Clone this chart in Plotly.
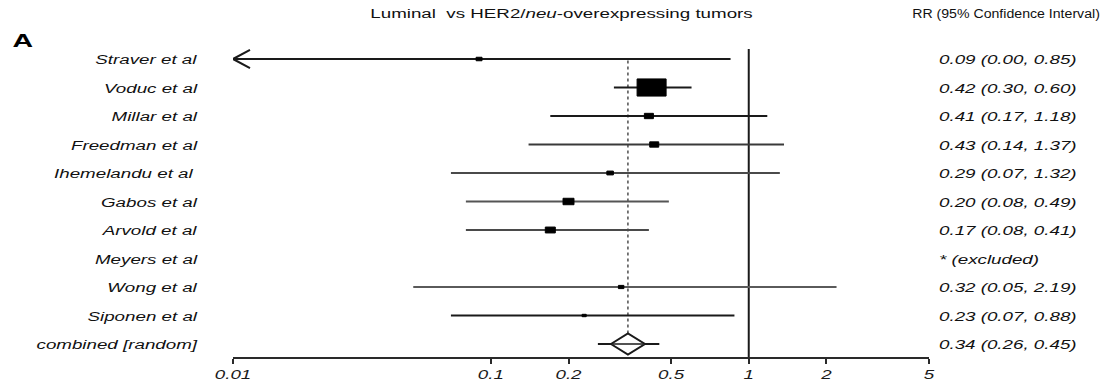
import json
import math
import plotly.graph_objects as go

# ---------------- data ----------------
studies = ["Straver et al", "Voduc et al", "Millar et al", "Freedman et al",
           "Ihemelandu et al ", "Gabos et al", "Arvold et al", "Meyers et al",
           "Wong et al", "Siponen et al"]
rr = [0.09, 0.42, 0.41, 0.43, 0.29, 0.20, 0.17, None, 0.32, 0.23]
ci_low = [0.00, 0.30, 0.17, 0.14, 0.07, 0.08, 0.08, None, 0.05, 0.07]
ci_high = [0.85, 0.60, 1.18, 1.37, 1.32, 0.49, 0.41, None, 2.19, 0.88]
weights = [1.9, 45.5, 4.4, 4.4, 2.3, 6.5, 5.4, 0.0, 1.6, 0.9]   # estimated study weights (%)
rr_text = ["0.09 (0.00, 0.85)", "0.42 (0.30, 0.60)", "0.41 (0.17, 1.18)",
           "0.43 (0.14, 1.37)", "0.29 (0.07, 1.32)", "0.20 (0.08, 0.49)",
           "0.17 (0.08, 0.41)", "* (excluded)", "0.32 (0.05, 2.19)",
           "0.23 (0.07, 0.88)"]
pooled_label = "combined [random]"
pooled_rr = 0.34
pooled_low = 0.26
pooled_high = 0.45
pooled_text = "0.34 (0.26, 0.45)"
tick_values = [0.01, 0.1, 0.2, 0.5, 1, 2, 5]
tick_labels = ["0.01", "0.1", "0.2", "0.5", "1", "2", "5"]
title_left = "Luminal  vs HER2/<i>neu</i>-overexpressing tumors"
title_right = "RR (95% Confidence Interval)"
panel_label = "A"

# ---------------- layout geometry (pixels) ----------------
W, H = 1107, 388
ML, MR, MT, MB = 233, 178, 45, 31
PW, PH = W - ML - MR, H - MT - MB
X_MIN, X_MAX = 0.01, 5.0
ROW0_PX, ROW_STEP = 59.0, 28.5
PX_PER_DEC = PW / (math.log10(X_MAX) - math.log10(X_MIN))
y_top = (MT - ROW0_PX) / ROW_STEP
y_bot = (H - MB - ROW0_PX) / ROW_STEP
STRETCH = 1.5
SPECIAL_STRETCH = {title_right: 1.13}

INK = "#111111"
line_colors = ["#1a1a1a", "#1a1a1a", "#1a1a1a", "#3a3a3a", "#4a4a4a",
               "#555555", "#4a4a4a", "#4a4a4a", "#5a5a5a", "#1a1a1a"]
FONT = "Liberation Sans, Arial, sans-serif"


def px_x(v, dpx):
    """value shifted by dpx pixels along the log axis"""
    return v * 10 ** (dpx / PX_PER_DEC)


def paper_x(px):
    return (px - ML) / PW


def paper_y(py):
    return (H - MB - py) / PH


fig = go.Figure()
n = len(studies)
pooled_row = n

# reference lines
fig.add_trace(go.Scatter(x=[1, 1], y=[(49 - ROW0_PX) / ROW_STEP, y_bot], mode="lines",
                         line=dict(color="#1a1a1a", width=2), hoverinfo="skip"))
fig.add_trace(go.Scatter(x=[pooled_rr, pooled_rr], y=[0.05, pooled_row - 0.37], mode="lines",
                         line=dict(color="#333333", width=1.3, dash="dot"), hoverinfo="skip"))

# study CIs and boxes
for i in range(n):
    if rr[i] is None:
        continue
    lo = max(ci_low[i], X_MIN)
    fig.add_trace(go.Scatter(x=[lo, ci_high[i]], y=[i, i], mode="lines",
                             line=dict(color=line_colors[i], width=2.2), hoverinfo="skip"))
    if ci_low[i] < X_MIN:
        fig.add_trace(go.Scatter(x=[px_x(X_MIN, 17), X_MIN, px_x(X_MIN, 17)],
                                 y=[i - 0.32, i, i + 0.32], mode="lines",
                                 line=dict(color="#1a1a1a", width=2), hoverinfo="skip"))
    bw = 4.3 * math.sqrt(weights[i])
    bh = 0.59 * bw
    hx = bw / 2
    hy = bh / 2 / ROW_STEP
    fig.add_trace(go.Scatter(
        x=[px_x(rr[i], -hx), px_x(rr[i], hx), px_x(rr[i], hx), px_x(rr[i], -hx), px_x(rr[i], -hx)],
        y=[i - hy, i - hy, i + hy, i + hy, i - hy], mode="lines", fill="toself",
        fillcolor="#000000", line=dict(color="#000000", width=1), hoverinfo="skip"))

# pooled estimate
fig.add_trace(go.Scatter(x=[pooled_low, pooled_high], y=[pooled_row, pooled_row], mode="lines",
                         line=dict(color="#1a1a1a", width=2), hoverinfo="skip"))
dh = 10.5 / ROW_STEP
fig.add_trace(go.Scatter(
    x=[px_x(pooled_rr, -17), pooled_rr, px_x(pooled_rr, 17), pooled_rr, px_x(pooled_rr, -17)],
    y=[pooled_row, pooled_row - dh, pooled_row, pooled_row + dh, pooled_row],
    mode="lines", fill="toself", fillcolor="white",
    line=dict(color="#1a1a1a", width=2), hoverinfo="skip"))
fig.add_trace(go.Scatter(x=[px_x(pooled_rr, -15), px_x(pooled_rr, 15)], y=[pooled_row, pooled_row],
                         mode="lines", line=dict(color="#1a1a1a", width=1.5), hoverinfo="skip"))

annotations = []
all_labels = studies + [pooled_label]
all_text = rr_text + [pooled_text]
for i, (lab, txt) in enumerate(zip(all_labels, all_text)):
    annotations.append(dict(x=paper_x(200), xref="paper", y=i, yref="y", text=lab,
                            xanchor="right", yanchor="middle", align="right", showarrow=False,
                            yshift=-1,
                            font=dict(family=FONT, size=12.5, color=INK, style="italic")))
    annotations.append(dict(x=paper_x(937), xref="paper", y=i, yref="y", text=txt,
                            xanchor="left", yanchor="middle", align="left", showarrow=False,
                            yshift=-1,
                            font=dict(family=FONT, size=12.5, color=INK, style="italic")))
annotations.append(dict(x=paper_x(561), xref="paper", y=paper_y(14), yref="paper",
                        text=title_left, showarrow=False, xanchor="center", yanchor="middle",
                        align="center", font=dict(family=FONT, size=12.5, color=INK)))
annotations.append(dict(x=paper_x(1006), xref="paper", y=paper_y(14), yref="paper",
                        text=title_right, showarrow=False, xanchor="center", yanchor="middle",
                        align="center", font=dict(family=FONT, size=12.5, color=INK)))
annotations.append(dict(x=paper_x(23), xref="paper", y=paper_y(40), yref="paper",
                        text="<b>" + panel_label + "</b>", showarrow=False, xanchor="center",
                        yanchor="middle", font=dict(family=FONT, size=19, color="#000")))

fig.update_layout(
    width=W, height=H, margin=dict(l=ML, r=MR, t=MT, b=MB, autoexpand=False),
    paper_bgcolor="white", plot_bgcolor="white", showlegend=False,
    annotations=annotations,
    xaxis=dict(type="log", range=[math.log10(X_MIN), math.log10(X_MAX)],
               tickvals=tick_values, ticktext=tick_labels, showgrid=False, zeroline=False,
               showline=True, linecolor="#2a2a2a", linewidth=2, ticks="outside",
               ticklen=5, tickwidth=2, tickcolor="#2a2a2a",
               tickfont=dict(family=FONT, size=12.5, color="#1a1a1a", style="italic")),
    yaxis=dict(range=[y_bot, y_top], visible=False, showgrid=False, zeroline=False),
)

post = """
var gd = document.getElementById('{plot_id}');
var special = %s;
function stretchText(){
  var ts = gd.querySelectorAll('text');
  for (var k = 0; k < ts.length; k++) {
    var t = ts[k];
    if (t.getAttribute('data-st')) continue;
    var w = t.getComputedTextLength();
    if (!w) continue;
    var f = special.hasOwnProperty(t.textContent) ? special[t.textContent] : %s;
    t.setAttribute('textLength', (w * f).toFixed(2));
    t.setAttribute('lengthAdjust', 'spacingAndGlyphs');
    t.setAttribute('data-st', '1');
  }
}
stretchText();
""" % (json.dumps(SPECIAL_STRETCH), STRETCH)

fig.write_html("out.html", post_script=post, config={"displayModeBar": False})
